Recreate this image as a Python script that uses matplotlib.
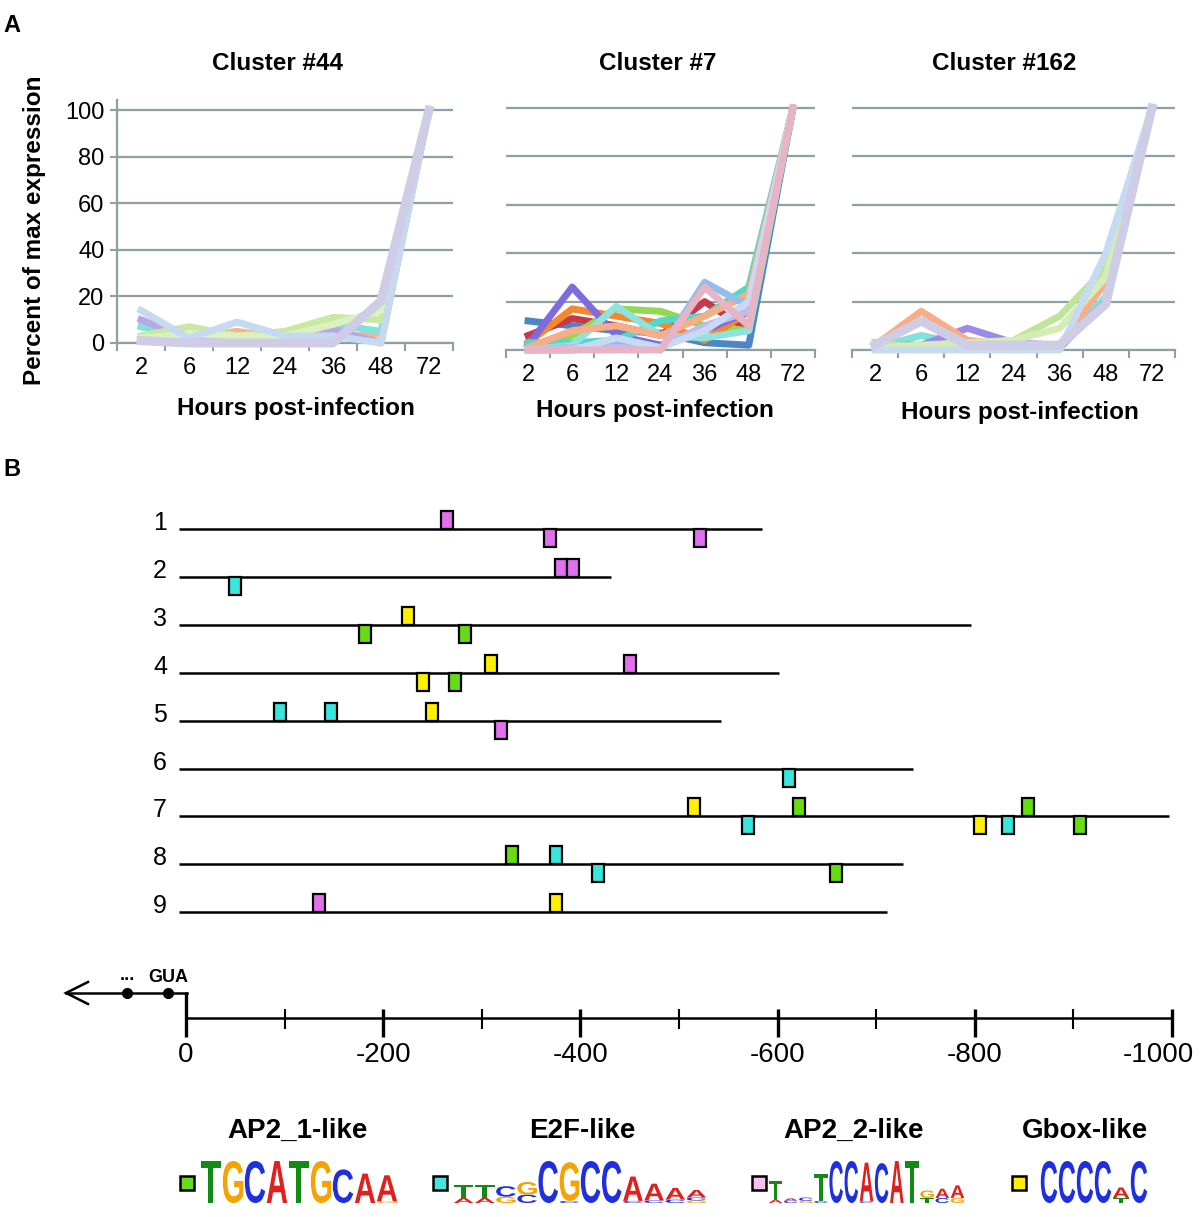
import matplotlib
matplotlib.use("Agg")
import matplotlib.pyplot as plt
from matplotlib.patches import Rectangle
from matplotlib.patheffects import AbstractPathEffect
from matplotlib.transforms import Affine2D, blended_transform_factory

plt.rcParams['font.family'] = ['Liberation Sans', 'DejaVu Sans']

# ---------------- data: panel A ----------------
hours = ['2', '6', '12', '24', '36', '48', '72']
cluster_titles = ['Cluster #44', 'Cluster #7', 'Cluster #162']

c44_values = [
    [2, 2, 5, 2, 2, 4, 100],
    [7, 2, 2, 2, 8, 5, 100],
    [10, 2, 1, 1, 6, 0, 100],
    [3, 7, 3, 5, 11, 10, 100],
    [2, 4, 3, 3, 8, 14, 100],
    [14, 2, 9, 3, 3, 0, 100],
    [1, 0, 0, 0, 0, 18, 100],
]
c44_colors = ['#F6B392', '#7FE3DA', '#B9A6E6', '#C9E8A2', '#DDF0C0', '#C5D9F1', '#CFCDE6']

c7_values = [
    [12, 10, 8, 7, 3, 2, 100],
    [6, 13, 10, 6, 20, 8, 100],
    [1, 6, 17, 16, 10, 8, 100],
    [3, 17, 14, 11, 4, 16, 100],
    [2, 26, 6, 2, 8, 16, 100],
    [3, 3, 4, 12, 14, 26, 100],
    [0, 2, 18, 6, 5, 8, 100],
    [1, 8, 10, 6, 14, 23, 100],
    [0, 0, 3, 0, 28, 18, 100],
    [0, 1, 1, 1, 10, 16, 100],
    [0, 0, 5, 1, 8, 20, 100],
    [0, 0, 0, 0, 26, 10, 100],
]
c7_colors = ['#4C86C6', '#C8384A', '#92D850', '#F3882E', '#7E6BE0', '#54D6C8',
             '#8FE3DC', '#F9AD86', '#93BDEB', '#C0B8F0', '#C6DAF2', '#E8B4C4']

c162_values = [
    [3, 1, 1, 1, 1, 20, 100],
    [1, 6, 2, 2, 2, 22, 100],
    [2, 2, 9, 3, 2, 20, 100],
    [2, 16, 4, 2, 2, 28, 100],
    [3, 1, 2, 4, 14, 34, 100],
    [1, 2, 3, 4, 9, 30, 100],
    [0, 0, 0, 0, 0, 40, 100],
    [2, 12, 2, 2, 2, 19, 100],
]
c162_colors = ['#C8384A', '#7FE3DA', '#9D8BEA', '#F9AD86', '#BFE59A', '#D5EDB5', '#C6DAF2', '#CFCDE6']

y_ticks = [0, 20, 40, 60, 80, 100]

# ---------------- data: panel B ----------------
gene_ids = [1, 2, 3, 4, 5, 6, 7, 8, 9]
gene_lengths = [584, 431, 796, 601, 543, 737, 997, 727, 711]
motif_gene = [1, 1, 1, 2, 2, 2, 3, 3, 3, 4, 4, 4, 4, 5, 5, 5, 5, 6,
              7, 7, 7, 7, 7, 7, 7, 8, 8, 8, 8, 9, 9]
motif_pos = [265, 369, 521, 50, 380, 392, 225, 182, 283, 309, 450, 240, 273,
             95, 147, 249, 319, 612, 515, 622, 854, 570, 805, 834, 907,
             331, 375, 418, 659, 135, 375]
motif_type = ['AP2_2', 'AP2_2', 'AP2_2', 'E2F', 'AP2_2', 'AP2_2', 'Gbox', 'AP2_1', 'AP2_1',
              'Gbox', 'AP2_2', 'Gbox', 'AP2_1', 'E2F', 'E2F', 'Gbox', 'AP2_2', 'E2F',
              'Gbox', 'AP2_1', 'AP2_1', 'E2F', 'Gbox', 'E2F', 'AP2_1',
              'AP2_1', 'E2F', 'E2F', 'AP2_1', 'AP2_2', 'Gbox']
motif_strand = ['+', '-', '-', '-', '+', '+', '+', '-', '-', '+', '+', '-', '-',
                '+', '+', '+', '-', '-', '+', '+', '+', '-', '-', '-', '-',
                '+', '+', '-', '-', '+', '+']
scale_major = [0, 200, 400, 600, 800, 1000]
scale_minor = [100, 300, 500, 700, 900]

motif_names = ['AP2_1-like', 'E2F-like', 'AP2_2-like', 'Gbox-like']
motif_colors = {'AP2_1': '#66DD11', 'E2F': '#38E6DE', 'AP2_2': '#E070EE', 'Gbox': '#FFF000'}
legend_colors = ['#66DD22', '#44E5DD', '#F5C2F0', '#FFEE00']

logo_ap2_1 = [[('T', 1.0)], [('G', 1.0)], [('C', 1.0)], [('A', 1.0)], [('T', 1.0)],
              [('G', 1.0)], [('C', 0.80)], [('A', 0.70)], [('G', 0.04), ('A', 0.62)]]
logo_e2f = [[('A', 0.12), ('T', 0.30)], [('A', 0.12), ('T', 0.30)], [('G', 0.15), ('C', 0.25)],
            [('C', 0.20), ('G', 0.30)], [('C', 1.0)], [('C', 0.05), ('G', 0.92)], [('C', 1.0)],
            [('C', 1.0)], [('C', 0.05), ('A', 0.58)], [('C', 0.06), ('A', 0.40)],
            [('C', 0.08), ('A', 0.28)], [('G', 0.06), ('C', 0.07), ('A', 0.18)]]
logo_ap2_2 = [[('A', 0.08), ('T', 0.45)], [('C', 0.06), ('A', 0.05)], [('G', 0.05), ('C', 0.08)],
              [('C', 0.05), ('T', 0.65)], [('C', 1.0)], [('C', 1.0)], [('C', 0.04), ('A', 0.92)],
              [('C', 0.95)], [('A', 1.0)], [('T', 1.0)], [('T', 0.12), ('G', 0.18)],
              [('C', 0.12), ('A', 0.22)], [('G', 0.12), ('A', 0.30)]]
logo_gbox = [[('C', 1.0)], [('C', 1.0)], [('C', 1.0)], [('C', 1.0)],
             [('T', 0.12), ('A', 0.25)], [('C', 1.0)]]
base_colors = {'A': '#E01F1F', 'C': '#1F2FE0', 'G': '#F5A300', 'T': '#138A13'}

# ---------------- figure ----------------
W, H = 1200, 1217
fig = plt.figure(figsize=(W / 100, H / 100), dpi=100)


def rect(x0, y0, x1, y1):
    return [x0 / W, 1 - y1 / H, (x1 - x0) / W, (y1 - y0) / H]


ov = fig.add_axes([0, 0, 1, 1])
ov.set_xlim(0, W)
ov.set_ylim(H, 0)
ov.axis('off')

GRID = '#8FA0A0'
BOLD = dict(fontweight='bold')

panel_rects = [rect(117, 100, 453, 343), rect(506, 97.6, 815, 350), rect(852, 97.6, 1175, 350)]
panel_values = [c44_values, c7_values, c162_values]
panel_colors = [c44_colors, c7_colors, c162_colors]
title_xy = [(278, 64), (658, 64), (1004, 64)]
xlabel_xy = [(296, 409), (655, 411), (1020, 412)]

for k in range(3):
    ax = fig.add_axes(panel_rects[k])
    ax.set_xlim(-0.5, 6.5)
    ax.set_ylim(0, 104.3)
    ax.set_axisbelow(True)
    for vals, col in zip(panel_values[k], panel_colors[k]):
        lw = 6.5 if (col == '#CFCDE6') else 5
        ax.plot(range(len(hours)), vals, color=col, lw=lw, clip_on=False, zorder=3)
    ax.set_yticks(y_ticks)
    ax.yaxis.grid(True, color=GRID, lw=1.6)
    ax.set_xticks([i - 0.5 for i in range(len(hours) + 1)])
    ax.set_xticklabels([])
    ax.set_xticks(range(len(hours)), hours, minor=True)
    ax.tick_params(axis='x', which='major', length=6, width=1.5, color=GRID, direction='out')
    ax.tick_params(axis='x', which='minor', length=0, pad=10, labelsize=17)
    for s in ['top', 'right']:
        ax.spines[s].set_visible(False)
    ax.spines['bottom'].set_color(GRID)
    ax.spines['bottom'].set_linewidth(1.6)
    if k == 0:
        ax.spines['left'].set_color(GRID)
        ax.spines['left'].set_linewidth(1.6)
        ax.tick_params(axis='y', length=5, width=1.5, color=GRID, pad=4, labelsize=17)
    else:
        ax.spines['left'].set_visible(False)
        ax.tick_params(axis='y', length=0, labelleft=False)
    ov.text(*title_xy[k], cluster_titles[k], ha='center', va='center', fontsize=17.5, **BOLD)
    ov.text(*xlabel_xy[k], 'Hours post-infection', ha='center', va='center', fontsize=17.5, **BOLD)

ov.text(35, 230, 'Percent of max expression', rotation=90, ha='center', va='center',
        fontsize=17.5, **BOLD)
ov.text(12, 26, 'A', ha='center', va='center', fontsize=17, **BOLD)
ov.text(12, 470, 'B', ha='center', va='center', fontsize=17, **BOLD)

# ---------------- panel B: gene map ----------------
PX0, PXS = 186.0, 0.986      # x pixel of position 0, pixels per bp
GY0, GYS = 529.0, 47.9       # y pixel of gene 1, pixels per gene row
gx = fig.add_axes([0, 0, 1, 1])
gx.set_xlim(-PX0 / PXS, (W - PX0) / PXS)
gx.set_ylim(1 + (H - GY0) / GYS, 1 - GY0 / GYS)
gx.axis('off')

box_w = 12 / PXS
box_h = 18 / GYS
for g, L in zip(gene_ids, gene_lengths):
    gx.plot([-7, L], [g, g], color='black', lw=1.8, solid_capstyle='butt', zorder=2)
    gx.text(-26 / PXS, g - 6 / GYS, str(g), ha='center', va='center', fontsize=18)

for g, p, t, s in zip(motif_gene, motif_pos, motif_type, motif_strand):
    y0 = g - box_h if s == '+' else g
    gx.add_patch(Rectangle((p - box_w / 2, y0), box_w, box_h, facecolor=motif_colors[t],
                           edgecolor='black', lw=1.6, zorder=3))

# scale bar
bt = blended_transform_factory(gx.transData, ov.transData)
gx.plot([0, 1000], [1018, 1018], color='black', lw=1.8, transform=bt, solid_capstyle='butt')
gx.plot([0, 0], [992, 1037], color='black', lw=2.4, transform=bt, solid_capstyle='butt')
for m in scale_major[1:]:
    gx.plot([m, m], [1009, 1037], color='black', lw=2.4, transform=bt, solid_capstyle='butt')
for m in scale_minor:
    gx.plot([m, m], [1009, 1029], color='black', lw=1.5, transform=bt, solid_capstyle='butt')
for m in scale_major:
    lab = '0' if m == 0 else '-%d' % m
    if m == scale_major[-1]:
        gx.text(m + 22 / PXS, 1055, lab, transform=bt, ha='right', va='center', fontsize=20)
    else:
        gx.text(m, 1055, lab, transform=bt, ha='center', va='center', fontsize=20)

# transcript arrow
ov.plot([187, 66], [993, 993], color='black', lw=1.8)
ov.plot([88, 66, 88], [982, 993, 1004], color='black', lw=1.8, solid_joinstyle='miter')
ov.plot([127, 168], [993, 993], 'o', color='black', ms=7)
ov.text(127, 980, '...', ha='center', va='baseline', fontsize=13, **BOLD)
ov.text(168, 981.5, 'GUA', ha='center', va='baseline', fontsize=13, **BOLD)


# ---------------- motif logos ----------------
class FitBox(AbstractPathEffect):
    """Stretch a glyph so that its ink fills a box given in overlay pixel coordinates."""

    def __init__(self, ax, box):
        super().__init__()
        self.ax = ax
        self.box = box

    def draw_path(self, renderer, gc, tpath, affine, rgbFace=None):
        ext = affine.transform_path(tpath).get_extents()
        x0, ytop, x1, ybot = self.box
        dx0, dy0 = self.ax.transData.transform((x0, ybot))
        dx1, dy1 = self.ax.transData.transform((x1, ytop))
        if ext.width <= 0 or ext.height <= 0:
            return
        tr = affine + Affine2D().translate(-ext.x0, -ext.y0).scale(
            (dx1 - dx0) / ext.width, (dy1 - dy0) / ext.height).translate(dx0, dy0)
        renderer.draw_path(gc, tpath, tr, rgbFace)


def draw_logo(columns, x0, x1, base, full_h):
    cw = (x1 - x0) / len(columns)
    for i, col in enumerate(columns):
        y = base
        for letter, frac in col:
            h = frac * full_h
            bx0, bx1 = x0 + i * cw + 0.8, x0 + (i + 1) * cw - 0.8
            box = (bx0, y - h, bx1, y)
            # nominal size keeps the unstretched text box inside the glyph box
            fs_px = max(min(h / 1.2, (bx1 - bx0) / 0.8), 1.0)
            t = ov.text(bx0, y, letter, fontsize=fs_px * 0.72, fontweight='bold',
                        color=base_colors[letter], ha='left', va='bottom')
            t.set_path_effects([FitBox(ov, box)])
            y -= h


logos = [logo_ap2_1, logo_e2f, logo_ap2_2, logo_gbox]
logo_x = [(200, 398), (453, 707), (768, 965), (1040, 1148)]
name_x = [297, 582, 854, 1085]
square_x = [187, 440, 759, 1019]
for i in range(4):
    ov.text(name_x[i], 1131, motif_names[i], ha='center', va='center', fontsize=20, **BOLD)
    ov.add_patch(Rectangle((square_x[i] - 7, 1183 - 7), 14, 14, facecolor=legend_colors[i],
                           edgecolor='black', lw=1.8))
    draw_logo(logos[i], logo_x[i][0], logo_x[i][1], 1203, 42)

fig.savefig('out.png', dpi=100)
